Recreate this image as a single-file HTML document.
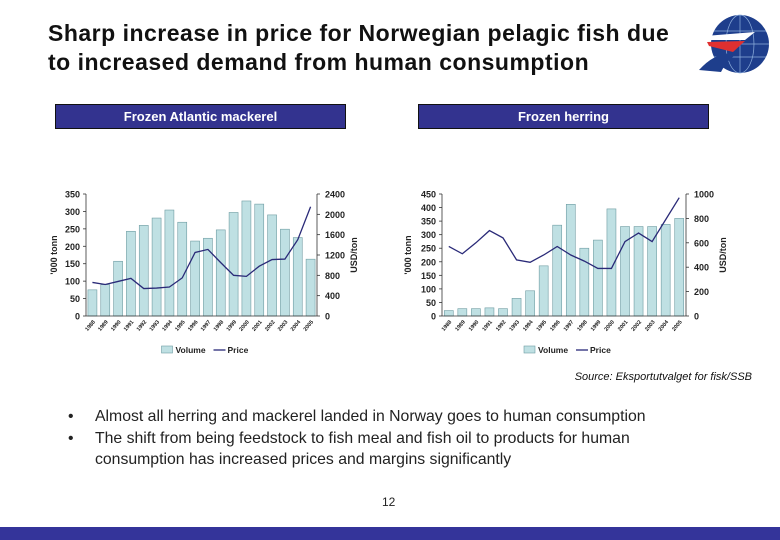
<!DOCTYPE html>
<html><head><meta charset="utf-8"><style>
body{margin:0;width:780px;height:540px;background:#fff;font-family:"Liberation Sans",sans-serif;position:relative;overflow:hidden}
.t{position:absolute;left:48px;top:19px;font-size:23px;letter-spacing:0.5px;font-weight:bold;line-height:29px;color:#111}
.hdr{position:absolute;top:104px;height:23px;background:#33338f;border:1px solid #111;color:#fff;font-size:13px;font-weight:bold;text-align:center;line-height:23px}
.src{position:absolute;right:28px;top:371px;font-size:11px;font-style:italic;color:#111}
.b{position:absolute;font-size:15.8px;color:#222;line-height:21px}
.b span{position:absolute;width:0}
.foot{position:absolute;left:0;top:527px;width:780px;height:13px;background:#34349a}
</style></head><body>
<div class="t">Sharp increase in price for Norwegian pelagic fish due<br>to increased demand from human consumption</div>
<svg style="position:absolute;left:697px;top:10px" width="76" height="68" viewBox="0 0 76 68">
<circle cx="43" cy="34" r="29" fill="#1e3e8c"/>
<g stroke="#8fb0dd" stroke-width="0.7" fill="none"><ellipse cx="43" cy="34" rx="14" ry="29"/><line x1="43" y1="5" x2="43" y2="63"/><line x1="14" y1="34" x2="72" y2="34"/><line x1="17" y1="21" x2="69" y2="21"/><line x1="17" y1="47" x2="69" y2="47"/></g>
<path d="M8 26 L58 22 L48 30 L8 30Z" fill="#fff"/><path d="M10 32 L48 31 L36 42 L12 36Z" fill="#e03030"/>
<path d="M2 60 Q20 40 40 44 Q30 50 24 62Z" fill="#1e3e8c"/>
</svg>
<div class="hdr" style="left:55px;width:289px">Frozen Atlantic mackerel</div>
<div class="hdr" style="left:418px;width:289px">Frozen herring</div>
<svg id="c" style="position:absolute;left:0;top:0" width="780" height="370"></svg>
<div class="src">Source: Eksportutvalget for fisk/SSB</div>
<div class="b" style="top:406px;left:95px"><span style="left:-27px">•</span>Almost all herring and mackerel landed in Norway goes to human consumption</div>
<div class="b" style="top:428px;left:95px"><span style="left:-27px">•</span>The shift from being feedstock to fish meal and fish oil to products for human<br>consumption has increased prices and margins significantly</div>
<div style="position:absolute;left:382px;top:495px;font-size:12px;color:#222">12</div>
<div class="foot"></div>
<script>
const years=["1988","1989","1990","1991","1992","1993","1994","1995","1996","1997","1998","1999","2000","2001","2002","2003","2004","2005"];
const mackVol=[75,90,157,243,260,281,304,269,215,223,247,297,330,321,290,249,225,163];
const mackPrice=[660,620,680,740,540,550,570,750,1250,1310,1050,800,780,980,1110,1120,1500,2150];
const herrVol=[20,27,27,30,27,65,93,185,335,412,250,280,395,330,330,330,338,360];
const herrPrice=[570,510,600,700,640,460,440,500,570,500,450,390,390,610,680,610,790,970];
const mackL=[0,50,100,150,200,250,300,350],mackR=[0,400,800,1200,1600,2000,2400];
const herrL=[0,50,100,150,200,250,300,350,400,450],herrR=[0,200,400,600,800,1000];
const svg=document.getElementById('c');const NS='http://www.w3.org/2000/svg';
function mk(t,a,txt){const e=document.createElementNS(NS,t);for(const k in a)e.setAttribute(k,a[k]);if(txt!==undefined)e.textContent=txt;svg.appendChild(e);return e;}
function chart(x0,x1,vol,price,lt,rt,name,toff){
 const y0=316,y1=194,lmax=lt[lt.length-1],rmax=rt[rt.length-1];
 const n=years.length,slot=(x1-x0)/n;
 const xc=i=>x0+slot*(i+0.5);const yl=v=>y0-(v/lmax)*(y0-y1);const yr=v=>y0-(v/rmax)*(y0-y1);
 vol.forEach((v,i)=>{const r=mk('rect',{x:xc(i)-4.5,y:yl(v),width:9,height:y0-yl(v),fill:'#bfe0e3',stroke:'#6e9ca2','stroke-width':0.6});
  });
 const p=mk('polyline',{points:price.map((v,i)=>xc(i)+','+yr(v)).join(' '),fill:'none',stroke:'#2a2a78','stroke-width':1.3});
 
 mk('line',{x1:x0,y1:y0,x2:x0,y2:y1,stroke:'#333','stroke-width':0.8});
 mk('line',{x1:x1,y1:y0,x2:x1,y2:y1,stroke:'#333','stroke-width':0.8});
 mk('line',{x1:x0,y1:y0,x2:x1,y2:y0,stroke:'#333','stroke-width':0.8});
 lt.forEach(v=>{mk('line',{x1:x0-3,y1:yl(v),x2:x0,y2:yl(v),stroke:'#333','stroke-width':0.8});
  const t=mk('text',{x:x0-6,y:yl(v)+3.5,'font-size':9,'font-weight':'bold','text-anchor':'end',fill:'#222'},v);
  });
 rt.forEach(v=>{mk('line',{x1:x1,y1:yr(v),x2:x1+3,y2:yr(v),stroke:'#333','stroke-width':0.8});
  const t=mk('text',{x:x1+8,y:yr(v)+3.5,'font-size':9,'font-weight':'bold',fill:'#222'},v);
  });
 years.forEach((y,i)=>{const t=mk('text',{x:xc(i)+3,y:y0+6,'font-size':5.5,'font-weight':'bold','text-anchor':'end',fill:'#222',transform:`rotate(-50 ${xc(i)+3} ${y0+6})`},y);
  });
 const ty=mk('text',{x:0,y:0,'font-size':9,'font-weight':'bold','text-anchor':'middle',fill:'#222',transform:`translate(${x0-toff},${(y0+y1)/2}) rotate(-90)`},"'000 tonn");
 
 const tr=mk('text',{x:0,y:0,'font-size':9,'font-weight':'bold','text-anchor':'middle',fill:'#222',transform:`translate(${x1+40},${(y0+y1)/2}) rotate(-90)`},"USD/ton");
 
 const lx=(x0+x1)/2-40;
 const lr=mk('rect',{x:lx,y:346,width:11,height:7,fill:'#bfe0e3',stroke:'#6e9ca2','stroke-width':0.6});
 
 mk('text',{x:lx+14,y:353,'font-size':8.5,'font-weight':'bold',fill:'#222'},'Volume');
 const ll=mk('line',{x1:lx+52,y1:350,x2:lx+64,y2:350,stroke:'#2a2a78','stroke-width':1.3});
 
 mk('text',{x:lx+66,y:353,'font-size':8.5,'font-weight':'bold',fill:'#222'},'Price');
}
chart(86,317,mackVol,mackPrice,mackL,mackR,'mackerel',29);
chart(442,686,herrVol,herrPrice,herrL,herrR,'herring',31);
</script>
</body></html>
